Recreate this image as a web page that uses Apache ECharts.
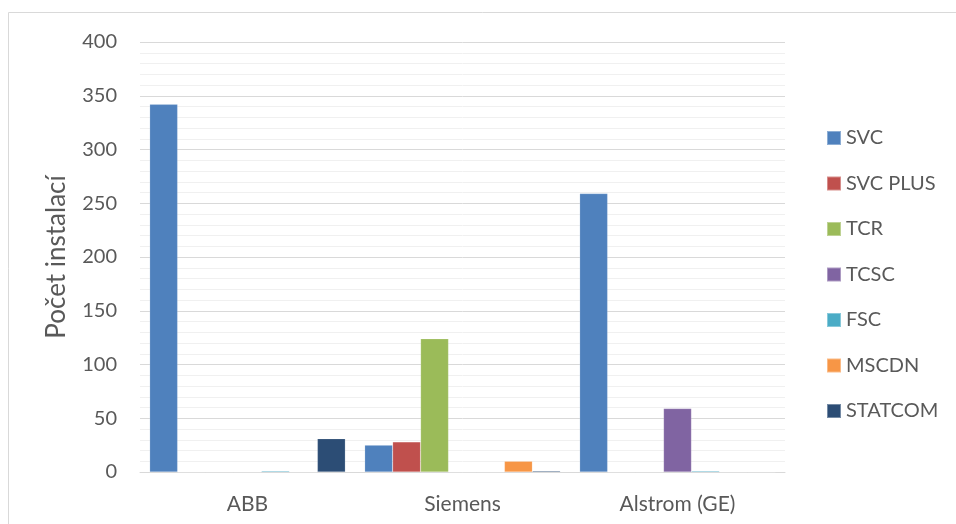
<!DOCTYPE html>
<html>
<head>
<meta charset="utf-8">
<script src="https://cdn.jsdelivr.net/npm/echarts@6/dist/echarts.min.js"></script>
<style>
  html, body { margin: 0; padding: 0; background: #fff; }
  #chart { width: 956px; height: 524px; }
</style>
</head>
<body>
<div id="chart"></div>
<script>
// data
const companies = ['ABB', 'Siemens', 'Alstrom (GE)'];
const seriesNames = ['SVC', 'SVC PLUS', 'TCR', 'TCSC', 'FSC', 'MSCDN', 'STATCOM'];
const svc = [342, 25, 259];
const svcPlus = [0, 28, 0];
const tcr = [0, 124, 0];
const tcsc = [0, 0, 59];
const fsc = [1, 0, 1];
const mscdn = [0, 10, 0];
const statcom = [31, 1, 0];
const yTicks = [0, 50, 100, 150, 200, 250, 300, 350, 400];

const colors = ['#4F81BD', '#C0504D', '#9BBB59', '#8064A2', '#4BACC6', '#F79646', '#2C4D75'];
const values = [svc, svcPlus, tcr, tcsc, fsc, mscdn, statcom];
const font = 'Lato, "Open Sans", sans-serif';

const chart = echarts.init(document.getElementById('chart'));
chart.setOption({
  animation: false,
  color: colors,
  textStyle: { fontFamily: font, color: '#595959' },
  graphic: [{
    type: 'rect',
    shape: { x: 8.5, y: 12.5, width: 960, height: 530 },
    style: { fill: 'none', stroke: '#d9d9d9', lineWidth: 1 },
    silent: true
  }],
  grid: { left: 140, right: 171, top: 42, bottom: 52 },
  legend: {
    orient: 'vertical',
    left: 826,
    top: 128,
    padding: 0,
    itemWidth: 14,
    itemHeight: 14,
    itemGap: 25.5,
    icon: 'rect',
    textStyle: { fontSize: 20, color: '#595959', fontFamily: font },
    data: seriesNames
  },
  xAxis: {
    type: 'category',
    data: companies,
    axisLine: { lineStyle: { color: '#d9d9d9', width: 1 } },
    axisTick: { show: false },
    axisLabel: { fontSize: 21, color: '#595959', margin: 22 }
  },
  yAxis: {
    type: 'value',
    name: 'Počet instalací',
    nameLocation: 'middle',
    nameGap: 70,
    nameTextStyle: { fontSize: 26, color: '#595959' },
    min: 0,
    max: 400,
    interval: 50,
    axisLine: { show: false },
    axisTick: { show: false },
    axisLabel: {
      fontSize: 20,
      color: '#595959',
      margin: 23,
      customValues: yTicks
    },
    splitLine: { lineStyle: { color: '#d9d9d9', width: 1 } },
    minorTick: { show: false, splitNumber: 5 },
    minorSplitLine: { show: true, lineStyle: { color: '#f0f0f0', width: 1 } }
  },
  series: seriesNames.map((name, i) => ({
    name: name,
    type: 'bar',
    data: values[i],
    barGap: '0%',
    barCategoryGap: '9%',
    itemStyle: { color: colors[i], borderColor: 'rgba(255,255,255,0.35)', borderWidth: 0.5 }
  }))
});
</script>
</body>
</html>
